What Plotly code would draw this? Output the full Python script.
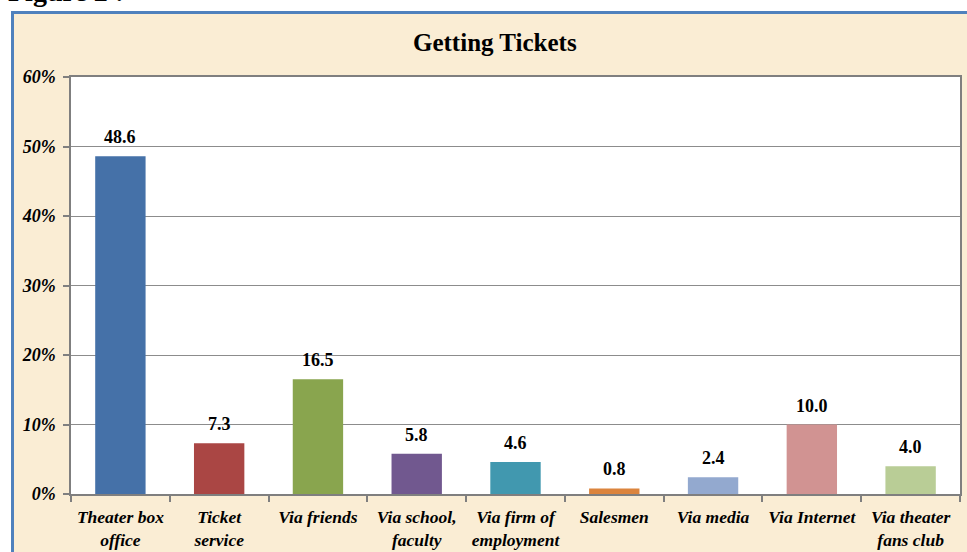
import plotly.graph_objects as go

categories = ["Theater box<br>office", "Ticket<br>service", "Via friends", "Via school,<br>faculty",
              "Via firm of<br>employment", "Salesmen", "Via media", "Via Internet", "Via theater<br>fans club"]
values = [48.6, 7.3, 16.5, 5.8, 4.6, 0.8, 2.4, 10.0, 4.0]
labels = ["48.6", "7.3", "16.5", "5.8", "4.6", "0.8", "2.4", "10.0", "4.0"]
colors = ["#4571A8", "#AA4644", "#89A54E", "#71588F", "#4198AF", "#DB843D", "#93A9CF", "#D19392", "#B9CD96"]
y_ticks = [0, 10, 20, 30, 40, 50, 60]
y_tick_text = ["0%", "10%", "20%", "30%", "40%", "50%", "60%"]

W, H = 967, 552
ML, MR, MT, MB = 71, 7, 77, 58
PW, PH = W - ML - MR, H - MT - MB

def px(x):
    return (x - ML) / PW

def py(y):
    return (H - MB - y) / PH

SERIF = "Liberation Serif"

fig = go.Figure()
fig.add_trace(go.Bar(
    x=categories, y=values, marker=dict(color=colors, line=dict(width=0)),
    hoverinfo="skip",
))

for c, v, t in zip(categories, values, labels):
    fig.add_annotation(x=c, y=v, xref="x", yref="y", text=t, showarrow=False,
                       yanchor="middle", yshift=19,
                       font=dict(family=SERIF, size=18, color="black", weight="bold"))

# Figure caption, cut off at the top of the page
fig.add_annotation(xref="paper", yref="paper", x=px(6), y=py(9), xanchor="left", yanchor="bottom",
                   text="Figure 2 :", showarrow=False,
                   font=dict(family=SERIF, size=28, color="black", weight="bold"))

# Chart title
fig.add_annotation(xref="paper", yref="paper", x=px(495), y=py(42), xanchor="center", yanchor="middle",
                   text="Getting Tickets", showarrow=False,
                   font=dict(family=SERIF, size=25, color="black", weight="bold"))

# white strips outside the chart frame
fig.add_shape(type="rect", xref="paper", yref="paper", x0=px(-20), x1=px(1000), y0=py(12), y1=py(-20),
              fillcolor="white", line=dict(width=0), layer="below")
fig.add_shape(type="rect", xref="paper", yref="paper", x0=px(-20), x1=px(12), y0=py(600), y1=py(12),
              fillcolor="white", line=dict(width=0), layer="below")
# blue frame
fig.add_shape(type="line", xref="paper", yref="paper", x0=px(12.5), x1=px(12.5), y0=py(11), y1=py(600),
              line=dict(color="#4F81BD", width=3))
fig.add_shape(type="line", xref="paper", yref="paper", x0=px(11), x1=px(1000), y0=py(12.5), y1=py(12.5),
              line=dict(color="#4F81BD", width=3))

fig.update_layout(
    width=W, height=H,
    margin=dict(l=ML, r=MR, t=MT, b=MB),
    paper_bgcolor="#FAEDD4",
    plot_bgcolor="white",
    showlegend=False,
    bargap=0.49,
)
fig.update_xaxes(
    type="category", showline=True, mirror=True, linecolor="#7F7F7F", linewidth=1.5,
    ticks="outside", tickson="boundaries", ticklen=6, tickcolor="#7F7F7F", tickwidth=1.5,
    showgrid=False, ticklabelstandoff=6, automargin=False,
    tickfont=dict(family=SERIF, size=17.5, color="black", weight="bold", style="italic"),
)
fig.update_yaxes(
    range=[0, 60], tickvals=y_ticks, ticktext=y_tick_text, showline=True, mirror=True,
    linecolor="#7F7F7F", linewidth=1.5, ticks="outside", ticklen=6, tickcolor="#7F7F7F", tickwidth=1.5,
    showgrid=True, gridcolor="#8C8C8C", gridwidth=1, zeroline=False, ticklabelstandoff=4,
    automargin=False,
    tickfont=dict(family=SERIF, size=18, color="black", weight="bold", style="italic"),
)

fig.write_html("out.html")
